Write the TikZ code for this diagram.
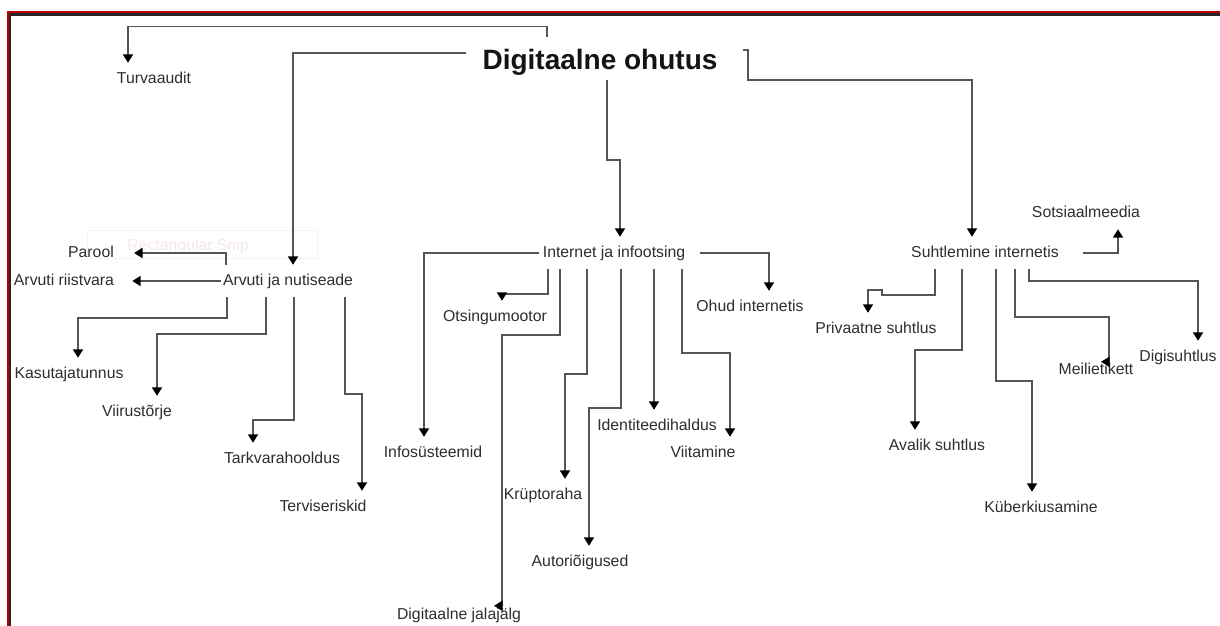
\documentclass[tikz,border=0pt]{standalone}
\usepackage{fontspec}
\setmainfont{Liberation Sans}
\usetikzlibrary{arrows.meta,calc}
\definecolor{lineg}{HTML}{555555}
\definecolor{txt}{HTML}{2E2E2E}
\definecolor{bred}{HTML}{C00000}
\definecolor{bdark}{HTML}{262626}
\definecolor{snipt}{RGB}{245,232,232}
\definecolor{snipb}{RGB}{244,244,244}
\begin{document}
\begin{tikzpicture}[x=1pt,y=-1pt,
  lbl/.style={font=\fontsize{15.8}{18}\selectfont, text=txt, inner xsep=2pt, inner ysep=8.25pt, text height=12pt, text depth=3.5pt},
  edge/.style={draw=lineg, line width=1.8pt, -{Triangle[length=8.5pt,width=10pt,black]}}]
\useasboundingbox (0,0) rectangle (1220,626);
\fill[white] (0,0) rectangle (1220,626);
% frame
\fill[bred] (7,11) rectangle (1220,13);
\fill[bdark] (9,13) rectangle (1220,16);
\fill[bred] (7,11) rectangle (9,626);
\fill[bdark] (9,13) rectangle (11,626);
% faint snip box
\draw[snipb, line width=0.8pt] (87,230) rectangle (317,258);
\node[lbl, text=snipt] (snip) at (188,246) {Rectangular Snip};
% root
\node[font=\bfseries\fontsize{28}{32}\selectfont, text=black!92, inner sep=0pt, anchor=base] (root) at (600,70) {Digitaalne ohutus};
% level 1
\node[lbl] (turva) at (154,79) {Turvaaudit};
\node[lbl] (arvuti) at (288,281) {Arvuti ja nutiseade};
\node[lbl] (internet) at (614,253) {Internet ja infootsing};
\node[lbl] (suhtl) at (985,253) {Suhtlemine internetis};
% left cluster
\node[lbl] (parool) at (91,253) {Parool};
\node[lbl] (riist) at (64,281) {Arvuti riistvara};
\node[lbl] (kasut) at (69,374) {Kasutajatunnus};
\node[lbl] (viirus) at (137,412) {Viirustõrje};
\node[lbl] (tark) at (282,459) {Tarkvarahooldus};
\node[lbl] (terv) at (323,507) {Terviseriskid};
% middle cluster
\node[lbl] (infos) at (433,453) {Infosüsteemid};
\node[lbl] (otsing) at (495,317) {Otsingumootor};
\node[lbl] (jalaj) at (459,615) {Digitaalne jalajälg};
\node[lbl] (kryp) at (543,495) {Krüptoraha};
\node[lbl] (autor) at (580,562) {Autoriõigused};
\node[lbl] (ident) at (657,426) {Identiteedihaldus};
\node[lbl] (viita) at (703,453) {Viitamine};
\node[lbl] (ohud) at (750,307) {Ohud internetis};
% right cluster
\node[lbl] (sots) at (1086,213) {Sotsiaalmeedia};
\node[lbl] (priv) at (876,329) {Privaatne suhtlus};
\node[lbl] (aval) at (937,446) {Avalik suhtlus};
\node[lbl] (kub) at (1041,508) {Küberkiusamine};
\node[lbl] (meili) at (1096,370) {Meilietikett};
\node[lbl] (digis) at (1178,357) {Digisuhtlus};
% root edges
\draw[edge] ($(root.north)+(-53,-13)$) -- ++(0,-10) -| (turva.north -| 128,0);
\draw[edge] ($(root.west)+(-16,-10)$) -| (arvuti.north -| 293,0);
\draw[edge] ($(root.south)+(7,4)$) -- ++(0,80) -| (internet.north -| 620,0);
\draw[edge] ($(root.east)+(25,-13)$) -- ++(5,0) -- ++(0,30) -| (suhtl.north -| 972,0);
% left edges
\draw[edge] (arvuti.north -| 226,0) |- ($(parool.east)+(18,0)$);
\draw[edge] (arvuti.west) -- ($(riist.east)+(16,0)$);
\draw[edge] (arvuti.south -| 227,0) -- ++(0,21) -| (kasut.north -| 78,0);
\draw[edge] (arvuti.south -| 266,0) -- ++(0,37) -| (viirus.north -| 157,0);
\draw[edge] (arvuti.south -| 294,0) -- ++(0,123) -| (tark.north -| 253,0);
\draw[edge] (arvuti.south -| 345,0) -- ++(0,97) -| (terv.north -| 362,0);
% middle edges
\draw[edge] ($(internet.west)+(-2,0)$) -| (infos.north -| 424,0);
\draw[edge] (internet.south -| 548,0) -- ++(0,25) -| (otsing.north -| 502,0);
\draw[edge] (internet.south -| 560,0) -- ++(0,66) -| ($(jalaj.north -| 502,0)+(0,7)$) -- ++(-8,0);
\draw[edge] (internet.south -| 587,0) -- ++(0,105) -| (kryp.north -| 565,0);
\draw[edge] (internet.south -| 621,0) -- ++(0,139) -| (autor.north -| 589,0);
\draw[edge] (internet.south -| 654,0) -- (ident.north -| 654,0);
\draw[edge] (internet.south -| 682,0) -- ++(0,84) -| (viita.north -| 730,0);
\draw[edge] ($(internet.east)+(13,0)$) -| (ohud.north -| 769,0);
% right edges
\draw[edge] ($(suhtl.east)+(22,0)$) -| (sots.south -| 1118,0);
\draw[edge] (suhtl.south -| 935,0) -- ++(0,26) -- ++(-53,0) -- ++(0,-5) -| (priv.north -| 868,0);
\draw[edge] (suhtl.south -| 962,0) -- ++(0,81) -| (aval.north -| 915,0);
\draw[edge] (suhtl.south -| 996,0) -- ++(0,112) -| (kub.north -| 1032,0);
\draw[edge] (suhtl.south -| 1015,0) -- ++(0,48) -| ($(meili.north -| 1109,0)+(0,8)$) -- ++(-8,0);
\draw[edge] (suhtl.south -| 1029,0) -- ++(0,12) -| (digis.north -| 1198,0);
\end{tikzpicture}
\end{document}
